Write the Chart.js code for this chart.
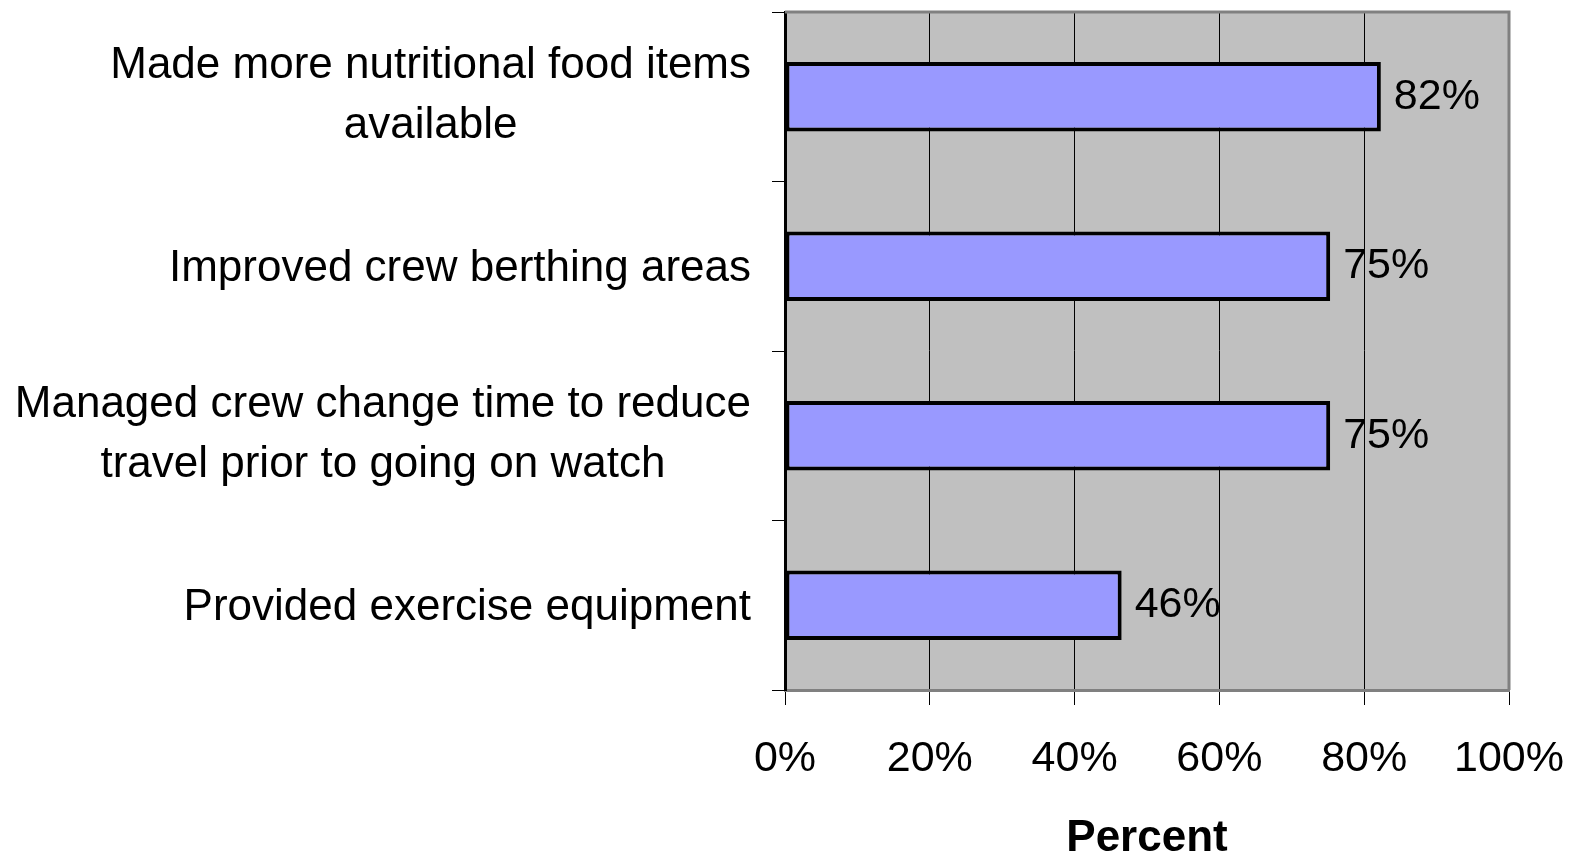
<!DOCTYPE html>
<html>
<head>
<meta charset="utf-8">
<script src="https://cdn.jsdelivr.net/npm/chart.js"></script>
<style>
  html, body { margin: 0; padding: 0; background: #ffffff; }
  #wrap { width: 1579px; height: 853px; position: relative; }
</style>
</head>
<body>
<div id="wrap"><canvas id="c"></canvas></div>
<script>
const categories = [
  ["Made more nutritional food items", "available"],
  "Improved crew berthing areas",
  ["Managed crew change time to reduce", "travel prior to going on watch"],
  "Provided exercise equipment"
];
const values = [82.3, 75.3, 75.3, 46.5];
const valueLabels = ["82%", "75%", "75%", "46%"];
const xTickValues = [0, 20, 40, 60, 80, 100];
const axisTitle = "Percent";

const FONT = '"Liberation Sans", Arial, sans-serif';

const plotBg = {
  id: 'plotBg',
  beforeDraw(chart) {
    const { ctx, chartArea: a } = chart;
    ctx.save();
    ctx.fillStyle = '#C0C0C0';
    ctx.fillRect(a.left, a.top, a.right - a.left, a.bottom - a.top);
    ctx.restore();
  },
  afterDraw(chart) {
    const { ctx, chartArea: a } = chart;
    ctx.save();
    ctx.strokeStyle = '#808080';
    ctx.lineWidth = 3;
    ctx.beginPath();
    ctx.moveTo(a.left, a.top);
    ctx.lineTo(a.right, a.top);
    ctx.lineTo(a.right, a.bottom);
    ctx.stroke();
    ctx.restore();
  }
};

const catLabels = {
  id: 'catLabels',
  afterDraw(chart) {
    const { ctx, chartArea: a } = chart;
    const ys = chart.scales.y;
    ctx.save();
    ctx.font = '44px ' + FONT;
    ctx.fillStyle = '#000';
    ctx.textAlign = 'center';
    ctx.textBaseline = 'middle';
    categories.forEach((lab, i) => {
      const lines = Array.isArray(lab) ? lab : [lab];
      const w = Math.max(...lines.map(l => ctx.measureText(l).width));
      const cx = a.left - 34 - w / 2;
      const yc = ys.getPixelForValue(i) + (lines.length > 1 ? -1 : 3);
      const lh = 60;
      lines.forEach((l, j) => {
        ctx.fillText(l, cx, yc + (j - (lines.length - 1) / 2) * lh);
      });
    });
    ctx.restore();
  }
};

const valueText = {
  id: 'valueText',
  afterDatasetsDraw(chart) {
    const { ctx } = chart;
    const meta = chart.getDatasetMeta(0);
    ctx.save();
    ctx.font = '43px ' + FONT;
    ctx.fillStyle = '#000';
    ctx.textAlign = 'left';
    ctx.textBaseline = 'middle';
    meta.data.forEach((bar, i) => {
      ctx.fillText(valueLabels[i], bar.x + 13, bar.y);
    });
    ctx.restore();
  }
};

new Chart(document.getElementById('c'), {
  type: 'bar',
  data: {
    labels: categories,
    datasets: [{
      data: values,
      backgroundColor: '#9999FF',
      borderColor: '#000000',
      borderWidth: 4,
      borderSkipped: false,
      categoryPercentage: 1.0,
      barPercentage: 0.41
    }]
  },
  options: {
    indexAxis: 'y',
    responsive: true,
    maintainAspectRatio: false,
    animation: false,
    layout: { padding: { left: 0, right: 70, top: 12, bottom: 0 } },
    plugins: {
      legend: { display: false },
      tooltip: { enabled: false }
    },
    scales: {
      x: {
        type: 'linear',
        min: 0,
        max: 100,
        afterBuildTicks(scale) {
          scale.ticks = xTickValues.map(v => ({ value: v }));
        },
        afterFit(scale) {
          scale.height = 163;
          scale.paddingLeft = 0;
          scale.paddingRight = 0;
        },
        ticks: {
          callback: v => v + '%',
          color: '#000',
          font: { family: FONT, size: 43 },
          padding: 28,
          maxRotation: 0
        },
        grid: {
          color: '#000',
          lineWidth: 1,
          drawTicks: true,
          tickLength: 15,
          tickColor: '#000'
        },
        border: { color: '#808080', width: 3 },
        title: {
          display: true,
          text: axisTitle,
          color: '#000',
          font: { family: FONT, size: 44, weight: 'bold' },
          padding: { top: 0, bottom: -12 }
        }
      },
      y: {
        type: 'category',
        afterFit(scale) { scale.width = 785; },
        ticks: { display: false },
        grid: {
          offset: true,
          drawOnChartArea: false,
          drawTicks: true,
          tickLength: 13,
          tickColor: '#000',
          color: '#000'
        },
        border: { color: '#000', width: 3 }
      }
    }
  },
  plugins: [plotBg, catLabels, valueText]
});
</script>
</body>
</html>
